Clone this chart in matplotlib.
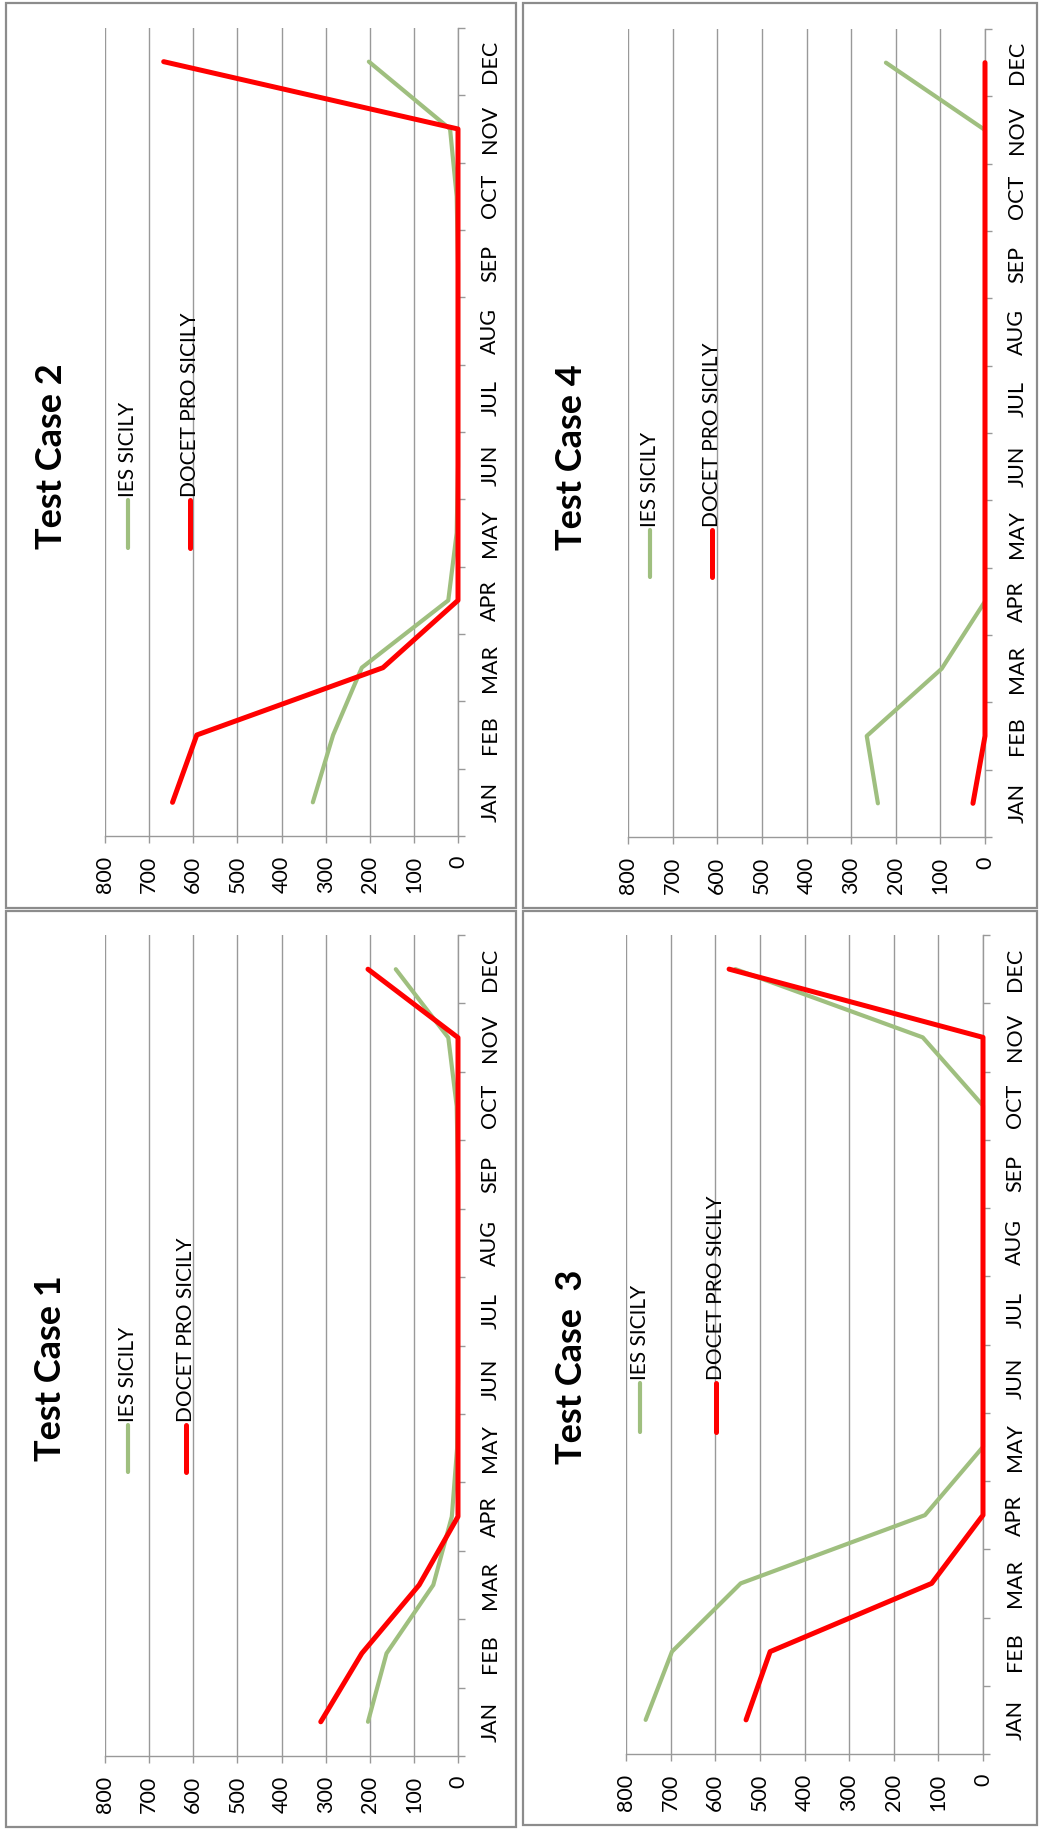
import matplotlib
matplotlib.use("Agg")
import matplotlib.pyplot as plt
import numpy as np
from matplotlib.lines import Line2D
from matplotlib.patches import Rectangle

plt.rcParams['font.family'] = ['Lato', 'DejaVu Sans']

months = ['JAN', 'FEB', 'MAR', 'APR', 'MAY', 'JUN', 'JUL', 'AUG', 'SEP', 'OCT', 'NOV', 'DEC']
value_ticks = [0, 100, 200, 300, 400, 500, 600, 700, 800]
series_names = ['IES SICILY', 'DOCET PRO SICILY']

ies_tc1 = [204, 162, 56, 14, 2, 0, 0, 0, 0, 3, 22, 141]
docet_tc1 = [311, 218, 88, 0, 0, 0, 0, 0, 0, 0, 0, 204]
ies_tc2 = [329, 283, 218, 22, 3, 0, 0, 0, 0, 3, 18, 202]
docet_tc2 = [647, 592, 170, 0, 0, 0, 0, 0, 0, 0, 0, 667]
ies_tc3 = [756, 697, 543, 130, 0, 0, 0, 0, 0, 0, 135, 555]
docet_tc3 = [531, 477, 115, 0, 0, 0, 0, 0, 0, 0, 0, 569]
ies_tc4 = [240, 265, 97, 0, 0, 0, 0, 0, 0, 0, 0, 222]
docet_tc4 = [27, 0, 0, 0, 0, 0, 0, 0, 0, 0, 0, 0]

W, H = 1040, 1830
GREEN = '#9fbf7f'
RED = '#ff0000'
GRID = '#999999'
BORDER = '#8c8c8c'

fig = plt.figure(figsize=(W / 100, H / 100), dpi=100)


def box(x0, y0, x1, y1):
    # pixel box (from top-left) -> figure fraction rect
    return [x0 / W, 1 - y1 / H, (x1 - x0) / W, (y1 - y0) / H]


def fx(x):
    return x / W


def fy(y):
    return 1 - y / H


# layout of each panel in pixels: border, plot area, title centre, legend
panels = [
    dict(title='Test Case 2', ies=ies_tc2, docet=docet_tc2,
         border=(6, 3, 516, 908), plot=(105, 28, 458, 836), title_xy=(52, 456),
         leg_x=(128, 190), leg_y=(548, 500)),
    dict(title='Test Case 4', ies=ies_tc4, docet=docet_tc4,
         border=(523, 3, 1037, 908), plot=(628, 29, 985, 837), title_xy=(572, 457),
         leg_x=(650, 712), leg_y=(577, 530)),
    dict(title='Test Case 1', ies=ies_tc1, docet=docet_tc1,
         border=(6, 911, 516, 1827), plot=(105, 935, 458, 1756), title_xy=(51, 1368),
         leg_x=(128, 186), leg_y=(1472, 1425)),
    dict(title='Test Case  3', ies=ies_tc3, docet=docet_tc3,
         border=(523, 911, 1037, 1825), plot=(626, 935, 983, 1754), title_xy=(571, 1367),
         leg_x=(640, 716), leg_y=(1432, 1383)),
]

idx = np.arange(len(months))

for p in panels:
    fig.add_artist(Rectangle((fx(p['border'][0]), fy(p['border'][3])),
                             (p['border'][2] - p['border'][0]) / W,
                             (p['border'][3] - p['border'][1]) / H,
                             transform=fig.transFigure, fill=False,
                             edgecolor=BORDER, lw=1.6))

    ax = fig.add_axes(box(*p['plot']))
    ax.plot(p['ies'], idx, color=GREEN, lw=3.0, solid_capstyle='round',
            clip_on=False, zorder=3)
    ax.plot(p['docet'], idx, color=RED, lw=3.6, solid_capstyle='round',
            clip_on=False, zorder=4)

    ax.set_xlim(800, 0)
    ax.set_ylim(-0.5, 11.5)
    ax.set_xticks(value_ticks)
    ax.set_xticklabels([str(v) for v in value_ticks], rotation=90)
    ax.tick_params(axis='x', length=5, width=1, color=GRID, pad=9, labelsize=15.5)
    ax.grid(axis='x', color=GRID, lw=1.0, zorder=0)
    ax.set_axisbelow(True)

    ax.yaxis.tick_right()
    ax.set_yticks(idx)
    ax.set_yticklabels(months, rotation=90, va='center')
    ax.set_yticks(np.arange(-0.5, 12, 1), minor=True)
    ax.tick_params(axis='y', which='major', length=0, pad=16, labelsize=15.5)
    ax.tick_params(axis='y', which='minor', length=5, width=1, color=GRID)

    for s in ['top', 'left']:
        ax.spines[s].set_visible(False)
    for s in ['right', 'bottom']:
        ax.spines[s].set_color(GRID)
        ax.spines[s].set_linewidth(1.0)

    fig.text(fx(p['title_xy'][0]), fy(p['title_xy'][1]), p['title'],
             rotation=90, ha='center', va='center', fontsize=26, fontweight='bold')

    # hand-made legend, rotated like the rest of the chart
    for name, col, lx in zip(series_names, [GREEN, RED], p['leg_x']):
        lw = 3.0 if col == GREEN else 3.6
        fig.add_artist(Line2D([fx(lx), fx(lx)], [fy(p['leg_y'][0]), fy(p['leg_y'][1])],
                              transform=fig.transFigure, color=col, lw=lw,
                              solid_capstyle='round'))
        fig.text(fx(lx), fy(p['leg_y'][1] - 3), name, rotation=90,
                 rotation_mode='anchor', ha='left', va='center', fontsize=15)

fig.savefig('out.png', dpi=100)
